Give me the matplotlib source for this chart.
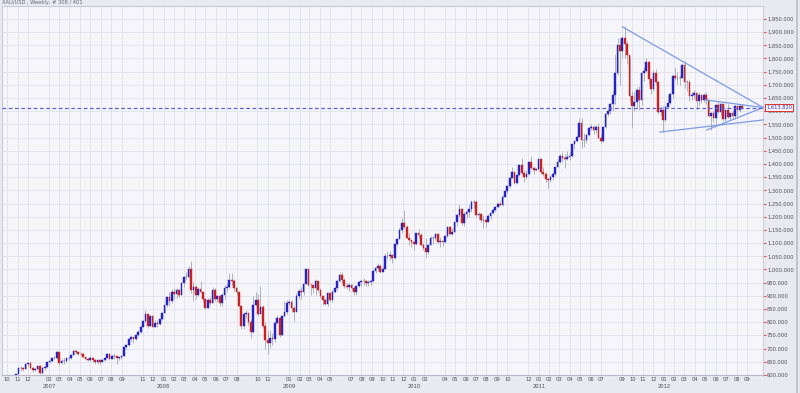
import numpy as np
import pandas as pd
import matplotlib
matplotlib.use('Agg')
import matplotlib.pyplot as plt
import matplotlib.dates as mdates
import matplotlib.transforms as mtransforms
from matplotlib.lines import Line2D

# weekly XAU/USD bars, Friday closes from 2006-10-27
first_open = 586
closes = [
    605, 628, 627, 623, 640, 647, 628, 620, 622, 635,
    # 2007
    609, 626, 630, 648, 654, 665, 665, 686, 646, 652, 654, 663, 663, 677, 690, 686, 680, 678, 668, 662,
    657, 663, 658, 648, 655, 650, 658, 665, 681, 662, 672, 672, 663, 667, 673, 705, 713, 737, 743, 737,
    751, 764, 783, 806, 833, 786, 823, 783, 798, 792, 812, 836,
    # 2008
    864, 897, 880, 914, 908, 922, 905, 948, 973, 972, 1001, 921, 933, 905, 925, 915, 889, 855, 884, 873,
    924, 887, 898, 872, 905, 929, 934, 959, 957, 928, 914, 863, 785, 831, 834, 800, 763, 866, 884, 832,
    857, 784, 733, 722, 740, 737, 798, 815, 753, 825, 838, 872,
    # 2009
    878, 854, 839, 899, 920, 914, 945, 1002, 941, 940, 929, 956, 921, 898, 883, 870, 912, 884, 915, 930,
    958, 979, 962, 938, 933, 940, 930, 913, 937, 953, 955, 957, 948, 953, 955, 996, 1006, 1015, 990, 1003,
    1050, 1050, 1056, 1045, 1096, 1117, 1149, 1175, 1161, 1118, 1110, 1105,
    # 2010
    1097, 1138, 1130, 1092, 1083, 1065, 1093, 1118, 1118, 1133, 1103, 1107, 1104, 1126, 1161, 1136, 1143,
    1179, 1208, 1229, 1176, 1212, 1217, 1228, 1256, 1256, 1208, 1210, 1189, 1189, 1181, 1204, 1215, 1227,
    1237, 1248, 1246, 1275, 1297, 1318, 1346, 1370, 1327, 1358, 1395, 1366, 1352, 1362, 1406, 1385, 1378,
    1380, 1420,
    # 2011
    1369, 1361, 1342, 1341, 1349, 1361, 1388, 1409, 1429, 1421, 1418, 1428, 1429, 1475, 1486, 1504, 1556,
    1491, 1492, 1510, 1536, 1542, 1529, 1539, 1500, 1486, 1542, 1591, 1601, 1628, 1663, 1745, 1852, 1828,
    1876, 1856, 1813, 1657, 1620, 1636, 1682, 1642, 1746, 1753, 1788, 1724, 1686, 1746, 1711, 1597, 1606,
    1565,
    # 2012
    1617, 1631, 1665, 1735, 1725, 1725, 1725, 1775, 1711, 1712, 1657, 1662, 1668, 1640, 1660, 1642, 1663,
    1644, 1581, 1592, 1573, 1622, 1596, 1627, 1571, 1604, 1579, 1592, 1580, 1620, 1604, 1620, 1613.82,
]
highs = [
    607, 632, 633, 630, 642, 649, 648, 630, 627, 637,
    638, 630, 637, 651, 658, 669, 672, 690, 687, 659, 664, 665, 667, 680, 693, 693, 689, 686, 682, 670,
    666, 673, 667, 661, 660, 658, 662, 668, 684, 683, 675, 685, 669, 670, 677, 711, 719, 739, 747, 745,
    755, 769, 790, 809, 848, 831, 826, 826, 808, 808, 814, 838,
    866, 900, 914, 925, 930, 930, 925, 953, 975, 990, 1012, 1032, 952, 943, 935, 958, 915, 891, 892, 897,
    933, 930, 903, 904, 910, 940, 945, 988, 986, 963, 935, 918, 865, 838, 847, 836, 812, 901, 916, 906,
    937, 865, 800, 766, 770, 760, 804, 829, 819, 826, 880, 883,
    884, 883, 861, 912, 927, 932, 949, 1007, 995, 948, 942, 963, 958, 931, 898, 892, 915, 912, 921, 932,
    961, 990, 991, 966, 948, 947, 944, 935, 940, 957, 960, 968, 960, 959, 959, 1000, 1011, 1024, 1019, 1013,
    1063, 1070, 1070, 1060, 1101, 1118, 1156, 1195, 1227, 1168, 1139, 1113,
    1109, 1140, 1153, 1140, 1101, 1120, 1095, 1128, 1126, 1137, 1138, 1125, 1113, 1130, 1164, 1166, 1158,
    1180, 1209, 1249, 1232, 1217, 1227, 1250, 1264, 1265, 1262, 1217, 1213, 1206, 1194, 1212, 1219, 1234,
    1240, 1257, 1258, 1283, 1299, 1320, 1350, 1388, 1370, 1360, 1398, 1424, 1377, 1379, 1408, 1432, 1393,
    1385, 1422,
    1424, 1389, 1371, 1348, 1360, 1368, 1390, 1417, 1439, 1445, 1436, 1448, 1447, 1476, 1487, 1509, 1576,
    1575, 1519, 1515, 1538, 1552, 1549, 1546, 1555, 1513, 1545, 1594, 1610, 1632, 1682, 1817, 1878, 1877,
    1884, 1922, 1866, 1811, 1677, 1673, 1693, 1694, 1748, 1768, 1803, 1790, 1727, 1755, 1760, 1714, 1618,
    1620,
    1625, 1660, 1672, 1740, 1764, 1750, 1739, 1781, 1792, 1717, 1718, 1674, 1682, 1673, 1672, 1664, 1670,
    1673, 1647, 1598, 1601, 1628, 1640, 1632, 1628, 1605, 1626, 1593, 1605, 1623, 1623, 1622, 1626,
]
lows = [
    584, 603, 617, 614, 622, 636, 624, 612, 616, 619,
    602, 605, 620, 626, 645, 651, 660, 662, 637, 641, 640, 651, 656, 661, 675, 680, 675, 672, 665, 655,
    652, 654, 651, 641, 642, 643, 648, 654, 664, 659, 660, 660, 642, 658, 662, 671, 698, 710, 728, 722,
    731, 748, 759, 782, 802, 780, 785, 781, 782, 782, 790, 810,
    835, 857, 862, 872, 889, 893, 895, 903, 935, 960, 968, 910, 880, 887, 898, 910, 876, 851, 853, 866,
    872, 882, 875, 860, 863, 888, 915, 928, 941, 920, 905, 859, 773, 774, 815, 791, 740, 758, 862, 824,
    830, 780, 697, 681, 704, 712, 726, 795, 745, 752, 820, 833,
    865, 840, 806, 850, 890, 889, 905, 945, 936, 905, 912, 904, 916, 891, 867, 865, 862, 882, 878, 912,
    924, 951, 950, 931, 925, 920, 923, 905, 905, 933, 938, 943, 936, 937, 941, 951, 986, 997, 985, 989,
    1002, 1040, 1035, 1025, 1038, 1088, 1117, 1139, 1157, 1120, 1091, 1087,
    1075, 1091, 1120, 1090, 1075, 1044, 1057, 1091, 1096, 1113, 1101, 1085, 1088, 1100, 1123, 1130, 1130,
    1141, 1166, 1200, 1167, 1166, 1195, 1200, 1219, 1235, 1200, 1192, 1180, 1158, 1160, 1180, 1193, 1212,
    1220, 1236, 1240, 1242, 1274, 1290, 1310, 1345, 1324, 1323, 1355, 1361, 1330, 1343, 1360, 1380, 1363,
    1374, 1378,
    1362, 1355, 1330, 1309, 1330, 1340, 1355, 1388, 1404, 1408, 1383, 1416, 1414, 1425, 1456, 1484, 1502,
    1462, 1466, 1479, 1505, 1529, 1515, 1518, 1498, 1478, 1483, 1537, 1580, 1591, 1601, 1627, 1738, 1701,
    1803, 1803, 1779, 1640, 1535, 1601, 1608, 1605, 1625, 1716, 1747, 1704, 1667, 1678, 1705, 1590, 1586,
    1523,
    1562, 1612, 1627, 1652, 1717, 1705, 1701, 1726, 1689, 1677, 1640, 1641, 1645, 1610, 1625, 1631, 1635,
    1629, 1577, 1527, 1561, 1550, 1592, 1587, 1563, 1564, 1575, 1566, 1571, 1572, 1583, 1596, 1610,
]

# month ticks shown on the x axis (some months are skipped in the original)
tick_months = {
    2006: [10, 11, 12],
    2007: [2, 3, 4, 5, 6, 7, 8, 9, 11, 12],
    2008: [1, 2, 3, 4, 5, 6, 7, 8, 10, 11],
    2009: [1, 2, 3, 4, 5, 7, 8, 9, 10, 11, 12],
    2010: [1, 2, 4, 5, 6, 7, 8, 9, 10, 12],
    2011: [1, 2, 3, 4, 5, 6, 7, 9, 10, 11, 12],
    2012: [1, 2, 3, 4, 5, 6, 7, 8, 9],
}

# hand-drawn trendlines: (start date, start price, end date, end price)
trendlines = [
    ('2011-09-02', 1920, '2012-10-17', 1614),
    ('2012-05-01', 1643, '2012-10-17', 1614),
    ('2012-05-06', 1529, '2012-10-17', 1614),
    ('2011-12-21', 1521, '2012-10-17', 1567),
]
last_price = 1613.82
title = 'XAU/USD , Weekly, # 308 / 401'

FS = 3.7
TXT = '#4a4a55'


def main():
    weeks = pd.date_range('2006-10-27', periods=len(closes), freq='W-FRI')
    x = mdates.date2num(weeks.to_pydatetime())
    c = np.array(closes, dtype=float)
    o = np.concatenate([[first_open], c[:-1]])
    h = np.array(highs, dtype=float)
    lo = np.array(lows, dtype=float)

    fig = plt.figure(figsize=(8, 3.93), dpi=100, facecolor='#e9e9f1')
    ax = fig.add_axes([0.0025, 0.0458, 0.9513, 0.939])
    ax.set_facecolor('#f5f5fa')

    ax.vlines(x, lo, h, color='#a8a8b4', lw=0.6, zorder=2)
    up = c >= o
    ax.bar(x[up], c[up] - o[up], bottom=o[up], width=5, color='#2424c4',
           edgecolor='#2424c4', lw=0.3, zorder=3)
    ax.bar(x[~up], c[~up] - o[~up], bottom=o[~up], width=5, color='#c82222',
           edgecolor='#c82222', lw=0.3, zorder=3)

    # trendlines
    for d0, p0, d1, p1 in trendlines:
        ax.plot(mdates.datestr2num([d0, d1]), [p0, p1], color='#7d9be6',
                lw=0.9, zorder=4, clip_on=False)

    ax.axhline(last_price, color='#6262d6', lw=0.9, ls=(0, (3, 2)), zorder=4)

    ax.set_xlim(mdates.datestr2num('2006-09-16'), mdates.datestr2num('2012-10-17'))
    ax.set_ylim(600, 1999)

    # x ticks
    tick_pos, tick_lab, year_pos = [], [], []
    for yr, months in tick_months.items():
        for i, m in enumerate(months):
            d = mdates.datestr2num(f'{yr}-{m:02d}-01')
            tick_pos.append(d)
            tick_lab.append(f'{m:02d}')
            if i == 0 and yr > 2006:
                year_pos.append((d, str(yr)))
    ax.set_xticks(tick_pos)
    ax.set_xticklabels(tick_lab, fontsize=FS, color=TXT)
    ax.tick_params(axis='x', length=0, pad=1.3)
    trans = mtransforms.blended_transform_factory(ax.transData, ax.transAxes)
    for d, s in year_pos:
        ax.text(d, -0.032, s, transform=trans, ha='center', va='center',
                fontsize=FS, color=TXT)

    # y ticks on the right
    yt = np.arange(600, 1951, 50)
    ax.set_yticks(yt)
    ax.set_yticklabels([f'{v:,.3f}' for v in yt], fontsize=FS, color=TXT)
    ax.yaxis.tick_right()
    ax.tick_params(axis='y', length=2, width=0.8, color='#e05050', pad=0.8)

    ax.grid(True, color='#e3e3ed', lw=0.7, zorder=0)
    ax.set_axisbelow(True)
    for side in ['top', 'left']:
        ax.spines[side].set_color('#c9c9d8')
        ax.spines[side].set_linewidth(0.8)
    ax.spines['right'].set_color('#d0d0dc')
    ax.spines['bottom'].set_color('#b8b8c8')

    # last price label
    ax.annotate(f'{last_price:,.3f}', xy=(1.0, last_price),
                xycoords=('axes fraction', 'data'), xytext=(2.2, 0),
                textcoords='offset points', ha='left', va='center',
                fontsize=FS, color='#3a3ab8',
                bbox=dict(boxstyle='square,pad=0.2', fc='#f4f4fb',
                          ec='#e03030', lw=0.7), zorder=6)

    fig.text(0.003, 0.999, title, ha='left', va='top', fontsize=FS,
             color='#666677')

    # window border at the right edge
    fig.add_artist(Line2D([0.9965, 0.9965], [0, 1], transform=fig.transFigure,
                          color='#bcbcca', lw=1.2))

    fig.savefig('out.png', dpi=100, facecolor=fig.get_facecolor())


if __name__ == '__main__':
    main()
